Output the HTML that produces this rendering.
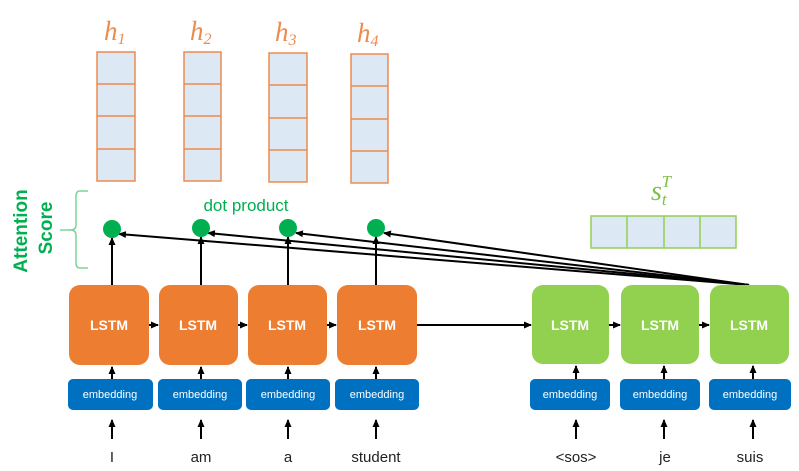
<!DOCTYPE html>
<html><head><meta charset="utf-8"><style>
html,body{margin:0;padding:0;background:#fff;}
svg{display:block;}
</style></head><body>
<svg width="799" height="471" viewBox="0 0 799 471" xmlns="http://www.w3.org/2000/svg" font-family="'Liberation Sans', sans-serif">
<defs>
<marker id="ah" markerWidth="8" markerHeight="8" refX="7" refY="4" orient="auto" markerUnits="userSpaceOnUse">
<path d="M0,0.5 L8,4 L0,7.5 z" fill="#000"/></marker>
</defs>
<g fill="#dce8f4" stroke="#ed8b4f" stroke-width="1.5">
<rect x="97" y="52" width="38" height="129"/><line x1="97" y1="84" x2="135" y2="84"/><line x1="97" y1="116" x2="135" y2="116"/><line x1="97" y1="149" x2="135" y2="149"/>
<rect x="184" y="52" width="37" height="129"/><line x1="184" y1="84" x2="221" y2="84"/><line x1="184" y1="116" x2="221" y2="116"/><line x1="184" y1="149" x2="221" y2="149"/>
<rect x="269" y="53" width="38" height="129"/><line x1="269" y1="85" x2="307" y2="85"/><line x1="269" y1="118" x2="307" y2="118"/><line x1="269" y1="150" x2="307" y2="150"/>
<rect x="351" y="54" width="37" height="129"/><line x1="351" y1="86" x2="388" y2="86"/><line x1="351" y1="119" x2="388" y2="119"/><line x1="351" y1="151" x2="388" y2="151"/>
</g>
<g fill="#ed8b4f" font-family="'Liberation Serif', serif" font-style="italic" font-size="27">
<text x="104" y="40">h<tspan font-size="16" dy="4" font-style="italic">1</tspan></text>
<text x="190" y="40">h<tspan font-size="16" dy="4" font-style="italic">2</tspan></text>
<text x="275" y="41">h<tspan font-size="16" dy="4" font-style="italic">3</tspan></text>
<text x="357" y="42">h<tspan font-size="16" dy="4" font-style="italic">4</tspan></text>
</g>
<g fill="#dce8f4" stroke="#92d050" stroke-width="1.5">
<rect x="591" y="216" width="145" height="32"/>
<line x1="627" y1="216" x2="627" y2="248"/><line x1="664" y1="216" x2="664" y2="248"/><line x1="700" y1="216" x2="700" y2="248"/>
</g>
<text x="651" y="200" fill="#7fc04a" font-family="'Liberation Serif', serif" font-style="italic" font-size="28">s<tspan font-size="17" dy="5">t</tspan><tspan font-size="17" dx="-5" dy="-18">T</tspan></text>
<text transform="translate(27,231) rotate(-90)" text-anchor="middle" fill="#00b050" font-weight="bold" font-size="19">Attention</text>
<text transform="translate(52,228) rotate(-90)" text-anchor="middle" fill="#00b050" font-weight="bold" font-size="19">Score</text>
<path d="M88,191 H80 Q76,191 76,196 V225 Q76,230 70,230 H60 M70,230 Q76,230 76,235 V263 Q76,268 80,268 H88" fill="none" stroke="#7fd39a" stroke-width="1.5"/>
<text x="246" y="211" text-anchor="middle" fill="#00b050" font-size="17">dot product</text>
<g stroke="#000" stroke-width="2" fill="none">
<line x1="749" y1="285" x2="119" y2="234" marker-end="url(#ah)"/>
<line x1="749" y1="285" x2="208" y2="233" marker-end="url(#ah)"/>
<line x1="749" y1="285" x2="296" y2="233" marker-end="url(#ah)"/>
<line x1="749" y1="285" x2="384" y2="233" marker-end="url(#ah)"/>
<line x1="112" y1="285" x2="112" y2="238" marker-end="url(#ah)"/>
<line x1="201" y1="285" x2="201" y2="237" marker-end="url(#ah)"/>
<line x1="288" y1="285" x2="288" y2="237" marker-end="url(#ah)"/>
<line x1="376" y1="285" x2="376" y2="237" marker-end="url(#ah)"/>
<line x1="416" y1="325" x2="531" y2="325" marker-end="url(#ah)"/>
<line x1="149" y1="325" x2="158" y2="325" marker-end="url(#ah)"/>
<line x1="238" y1="325" x2="247" y2="325" marker-end="url(#ah)"/>
<line x1="327" y1="325" x2="336" y2="325" marker-end="url(#ah)"/>
<line x1="609" y1="325" x2="620" y2="325" marker-end="url(#ah)"/>
<line x1="699" y1="325" x2="709" y2="325" marker-end="url(#ah)"/>
</g>
<g fill="#00b050">
<circle cx="112" cy="229" r="9"/><circle cx="201" cy="228" r="9"/><circle cx="288" cy="228" r="9"/><circle cx="376" cy="228" r="9"/>
</g>
<g fill="#ed7d31">
<rect x="69" y="285" width="80" height="80" rx="11"/>
<rect x="159" y="285" width="79" height="80" rx="11"/>
<rect x="248" y="285" width="79" height="80" rx="11"/>
<rect x="337" y="285" width="80" height="80" rx="11"/>
</g>
<g fill="#92d050">
<rect x="532" y="285" width="77" height="79" rx="11"/>
<rect x="621" y="285" width="78" height="79" rx="11"/>
<rect x="710" y="285" width="79" height="79" rx="11"/>
</g>
<g fill="#fff" font-weight="bold" font-size="14" text-anchor="middle">
<text x="109" y="330">LSTM</text><text x="198" y="330">LSTM</text><text x="287" y="330">LSTM</text><text x="377" y="330">LSTM</text>
<text x="570" y="330">LSTM</text><text x="660" y="330">LSTM</text><text x="749" y="330">LSTM</text>
</g>
<g fill="#0070c0">
<rect x="68" y="379" width="85" height="31" rx="5"/>
<rect x="158" y="379" width="84" height="31" rx="5"/>
<rect x="246" y="379" width="84" height="31" rx="5"/>
<rect x="335" y="379" width="84" height="31" rx="5"/>
<rect x="530" y="379" width="80" height="31" rx="5"/>
<rect x="620" y="379" width="80" height="31" rx="5"/>
<rect x="709" y="379" width="82" height="31" rx="5"/>
</g>
<g fill="#fff" font-size="11" text-anchor="middle">
<text x="110" y="398">embedding</text><text x="200" y="398">embedding</text><text x="288" y="398">embedding</text><text x="377" y="398">embedding</text>
<text x="570" y="398">embedding</text><text x="660" y="398">embedding</text><text x="750" y="398">embedding</text>
</g>
<g stroke="#000" stroke-width="2">
<line x1="112" y1="379" x2="112" y2="367" marker-end="url(#ah)"/>
<line x1="201" y1="379" x2="201" y2="367" marker-end="url(#ah)"/>
<line x1="288" y1="379" x2="288" y2="367" marker-end="url(#ah)"/>
<line x1="376" y1="379" x2="376" y2="367" marker-end="url(#ah)"/>
<line x1="576" y1="379" x2="576" y2="366" marker-end="url(#ah)"/>
<line x1="664" y1="379" x2="664" y2="366" marker-end="url(#ah)"/>
<line x1="753" y1="379" x2="753" y2="366" marker-end="url(#ah)"/>
<line x1="112" y1="439" x2="112" y2="420" marker-end="url(#ah)"/>
<line x1="201" y1="439" x2="201" y2="420" marker-end="url(#ah)"/>
<line x1="288" y1="439" x2="288" y2="420" marker-end="url(#ah)"/>
<line x1="376" y1="439" x2="376" y2="420" marker-end="url(#ah)"/>
<line x1="576" y1="439" x2="576" y2="420" marker-end="url(#ah)"/>
<line x1="664" y1="439" x2="664" y2="420" marker-end="url(#ah)"/>
<line x1="753" y1="439" x2="753" y2="420" marker-end="url(#ah)"/>
</g>
<g fill="#222" font-size="15" text-anchor="middle">
<text x="112" y="462">I</text><text x="201" y="462">am</text><text x="288" y="462">a</text><text x="376" y="462">student</text>
<text x="576" y="462">&lt;sos&gt;</text><text x="665" y="462">je</text><text x="750" y="462">suis</text>
</g>
</svg>
</body></html>
